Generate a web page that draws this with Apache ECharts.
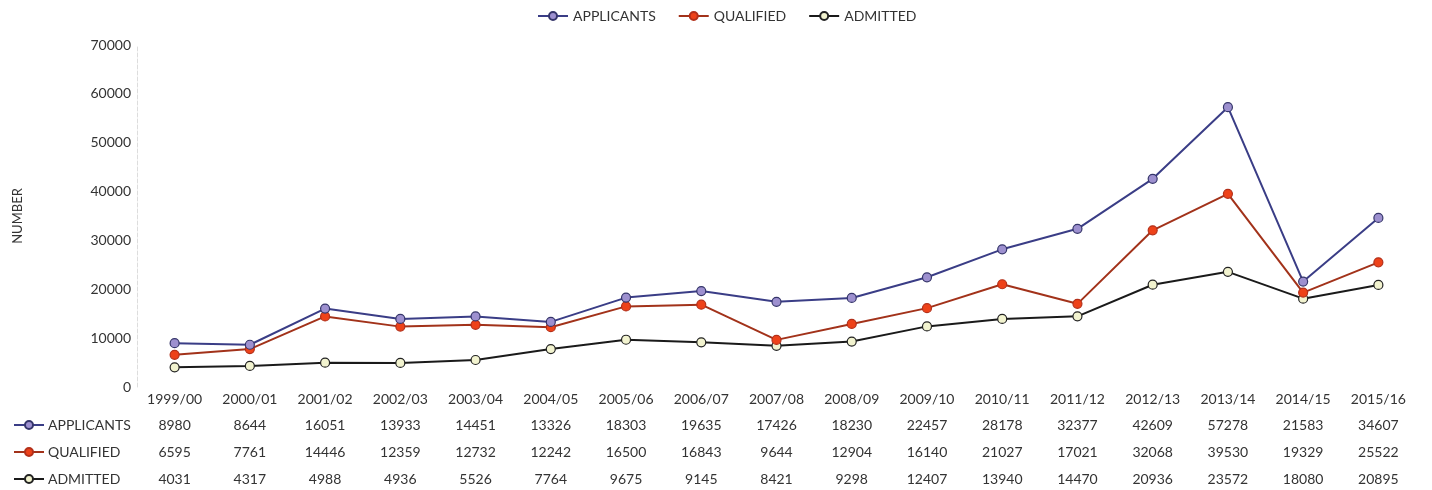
<!DOCTYPE html>
<html>
<head>
<meta charset="utf-8">
<script src="https://cdn.jsdelivr.net/npm/echarts@6/dist/echarts.min.js"></script>
<style>
  html, body { margin: 0; padding: 0; background: #fff; }
  #chart { width: 1432px; height: 490px; }
</style>
</head>
<body>
<div id="chart"></div>
<script>
const years = ['1999/00', '2000/01', '2001/02', '2002/03', '2003/04', '2004/05', '2005/06', '2006/07',
  '2007/08', '2008/09', '2009/10', '2010/11', '2011/12', '2012/13', '2013/14', '2014/15', '2015/16'];
const applicants = [8980, 8644, 16051, 13933, 14451, 13326, 18303, 19635, 17426, 18230, 22457, 28178, 32377, 42609, 57278, 21583, 34607];
const qualified = [6595, 7761, 14446, 12359, 12732, 12242, 16500, 16843, 9644, 12904, 16140, 21027, 17021, 32068, 39530, 19329, 25522];
const admitted = [4031, 4317, 4988, 4936, 5526, 7764, 9675, 9145, 8421, 9298, 12407, 13940, 14470, 20936, 23572, 18080, 20895];
const seriesNames = ['APPLICANTS', 'QUALIFIED', 'ADMITTED'];

const font = 'Lato, "Open Sans", sans-serif';
const textColor = '#333';

const styles = [
  { line: '#3a3d86', fill: '#9d90cf', border: '#35356a' },
  { line: '#a2321a', fill: '#ee4219', border: '#b3301a' },
  { line: '#1a1a1a', fill: '#f2f3cf', border: '#222' },
];
const rows = [applicants, qualified, admitted];

// one extra category axis per table row, the values drawn as labels
const tableAxes = rows.map((vals, i) => ({
  type: 'category',
  gridIndex: 0,
  position: 'bottom',
  offset: 26 + i * 27,
  data: vals.map(String),
  axisLine: { show: false },
  axisTick: { show: false },
  axisLabel: { color: textColor, fontSize: 14, fontFamily: font, interval: 0, margin: 5 },
}));

// row headers of the table: one single-item legend per row
const rowLegends = seriesNames.map((name, i) => ({
  data: [name],
  left: 8,
  top: 413 + i * 27,
  itemWidth: 30,
  itemHeight: 10,
  itemGap: 5,
  selectedMode: false,
  textStyle: { color: textColor, fontSize: 14, fontFamily: font, padding: [0, 0, 0, -1] },
}));

const chart = echarts.init(document.getElementById('chart'));
chart.setOption({
  animation: false,
  backgroundColor: '#fff',
  legend: [
    {
      data: seriesNames,
      left: 532,
      top: 4,
      itemWidth: 30,
      itemHeight: 10,
      itemGap: 22,
      textStyle: { color: textColor, fontSize: 14, fontFamily: font },
    },
    ...rowLegends,
  ],
  grid: { left: 137, right: 16, top: 45, bottom: 103 },
  xAxis: [
    {
      type: 'category',
      data: years,
      axisLine: { show: false },
      axisTick: { show: false },
      axisLabel: { color: textColor, fontSize: 14, fontFamily: font, interval: 0, margin: 5 },
    },
    ...tableAxes,
  ],
  yAxis: {
    type: 'value',
    min: 0,
    max: 70000,
    interval: 10000,
    name: 'NUMBER',
    nameLocation: 'middle',
    nameGap: 113,
    nameTextStyle: { color: textColor, fontSize: 13, fontFamily: font },
    axisLine: { show: true, lineStyle: { color: '#ddd', type: 'dashed', width: 1 } },
    axisTick: { show: false },
    splitLine: { show: false },
    axisLabel: { color: textColor, fontSize: 14, fontFamily: font, margin: 6, formatter: v => String(v) },
  },
  series: rows.map((vals, i) => ({
    name: seriesNames[i],
    type: 'line',
    data: vals,
    symbol: 'circle',
    symbolSize: 9,
    lineStyle: { color: styles[i].line, width: 2 },
    itemStyle: { color: styles[i].fill, borderColor: styles[i].border, borderWidth: 1.2 },
    z: 3 - i,
  })),
});
</script>
</body>
</html>
